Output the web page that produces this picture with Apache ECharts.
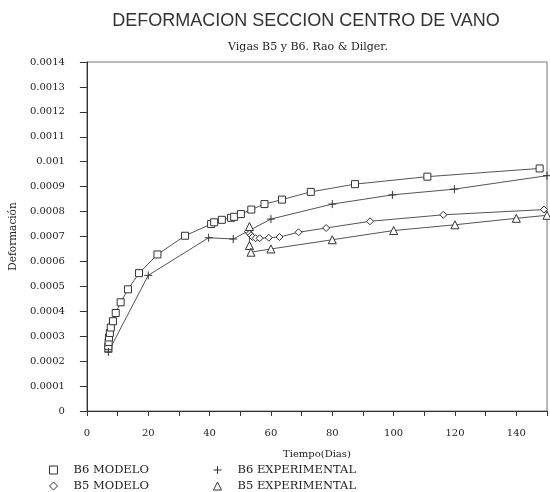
<!DOCTYPE html>
<html>
<head>
<meta charset="utf-8">
<script src="https://cdn.jsdelivr.net/npm/echarts@6/dist/echarts.min.js"></script>
<style>
  html, body { margin: 0; padding: 0; background: #fff; }
  #chart { width: 550px; height: 492px; }
</style>
</head>
<body>
<div id="chart"></div>
<script>
// datos: [dias, deformacion]
var b6Modelo = [
  [7.0, 0.00025], [7.0, 0.00026], [7.1, 0.000277], [7.2, 0.000295], [7.5, 0.000313],
  [7.8, 0.000335], [8.5, 0.00036], [9.4, 0.000393], [11.0, 0.000436], [13.4, 0.000488],
  [17.0, 0.000553], [23.0, 0.000628], [32.0, 0.000703], [40.5, 0.00075], [41.5, 0.000757],
  [44.0, 0.000767], [47.0, 0.000775], [48.0, 0.000779], [50.2, 0.00079], [53.6, 0.000808],
  [57.9, 0.00083], [63.6, 0.000848], [73.0, 0.000879], [87.4, 0.00091], [111.0, 0.00094],
  [147.6, 0.000973]
];
var b6Experimental = [
  [7.0, 0.000237], [20.0, 0.000544], [39.7, 0.000695], [47.7, 0.00069], [60.0, 0.00077],
  [80.0, 0.00083], [99.6, 0.000867], [119.8, 0.00089], [150.0, 0.000944]
];
var b5Modelo = [
  [52.5, 0.00072], [53.0, 0.000712], [53.5, 0.000705], [54.0, 0.000698], [55.0, 0.000693],
  [56.3, 0.000693], [59.3, 0.000695], [62.8, 0.000698], [69.0, 0.000717], [78.0, 0.000734],
  [92.3, 0.000761], [116.2, 0.000787], [149.0, 0.000808]
];
var b5Experimental = [
  [53.0, 0.00074], [53.0, 0.000664], [53.5, 0.000637], [60.0, 0.00065], [80.0, 0.000687],
  [100.0, 0.000724], [120.0, 0.000747], [140.0, 0.000773], [150.0, 0.000785]
];
var nombres = ['B6 MODELO', 'B5 MODELO', 'B6 EXPERIMENTAL', 'B5 EXPERIMENTAL'];

var plusIcon = 'path://M0,5L10,5M5,0L5,10';
var fuente = 'DejaVu Serif';
var tinta = '#333';

function serie(nombre, datos, simbolo, tam) {
  return {
    name: nombre,
    type: 'line',
    data: datos,
    symbol: simbolo,
    symbolSize: tam,
    showAllSymbol: true,
    lineStyle: { color: '#555', width: 1 },
    itemStyle: { color: '#fff', borderColor: tinta, borderWidth: 1 },
    emphasis: { disabled: true },
    animation: false
  };
}

// una leyenda por elemento, dos columnas
function leyenda(nombre, icono, x, y) {
  return {
    left: x, top: y,
    itemWidth: 8, itemHeight: 8,
    textStyle: { fontFamily: fuente, fontSize: 11.5, color: '#222', padding: [0, 0, 0, 11] },
    itemStyle: { color: '#fff', borderColor: tinta, borderWidth: 1 },
    selectedMode: false,
    data: [{ name: nombre, icon: icono }]
  };
}

var chart = echarts.init(document.getElementById('chart'));
chart.setOption({
  backgroundColor: '#fff',
  title: [{
    text: 'DEFORMACION SECCION CENTRO DE VANO',
    left: 301, top: 7, textAlign: 'center',
    textStyle: { fontFamily: 'Liberation Sans', fontWeight: 'normal', fontSize: 18, color: '#333' }
  }, {
    text: 'Vigas B5 y B6. Rao & Dilger.',
    left: 303, top: 37, textAlign: 'center',
    textStyle: { fontFamily: fuente, fontWeight: 'normal', fontSize: 11, color: '#222' }
  }],
  grid: {
    left: 85, right: 1, top: 62, bottom: 81,
    show: true, borderColor: '#777', borderWidth: 1
  },
  legend: [
    leyenda(nombres[0], 'rect', 44, 459),
    leyenda(nombres[1], 'diamond', 44, 475),
    leyenda(nombres[2], plusIcon, 208, 459),
    leyenda(nombres[3], 'triangle', 208, 475)
  ],
  xAxis: {
    type: 'value', min: 0, max: 150, interval: 10,
    name: 'Tiempo(Dias)', nameLocation: 'middle', nameGap: 38,
    nameTextStyle: { fontFamily: fuente, fontSize: 10, color: '#222' },
    axisLine: { onZero: false, lineStyle: { color: tinta } },
    axisTick: { length: 5, lineStyle: { color: tinta } },
    axisLabel: {
      margin: 17, fontFamily: fuente, fontSize: 10, color: '#222',
      formatter: function (v) { return v % 20 === 0 ? String(v) : ''; }
    },
    splitLine: { show: false }
  },
  yAxis: {
    type: 'value', min: 0, max: 0.0014, interval: 0.0001,
    name: 'Deformación', nameLocation: 'middle', nameGap: 63, nameRotate: 90,
    nameTextStyle: { fontFamily: fuente, fontSize: 10.5, color: '#222' },
    axisLine: { onZero: false, lineStyle: { color: tinta } },
    axisTick: { length: 7, lineStyle: { color: tinta } },
    axisLabel: { margin: 22, fontFamily: fuente, fontSize: 10, color: '#222' },
    splitLine: { show: false }
  },
  series: [
    serie(nombres[0], b6Modelo, 'rect', 7),
    serie(nombres[1], b5Modelo, 'diamond', 7),
    serie(nombres[2], b6Experimental, plusIcon, 8),
    serie(nombres[3], b5Experimental, 'triangle', 8)
  ]
});
</script>
</body>
</html>
